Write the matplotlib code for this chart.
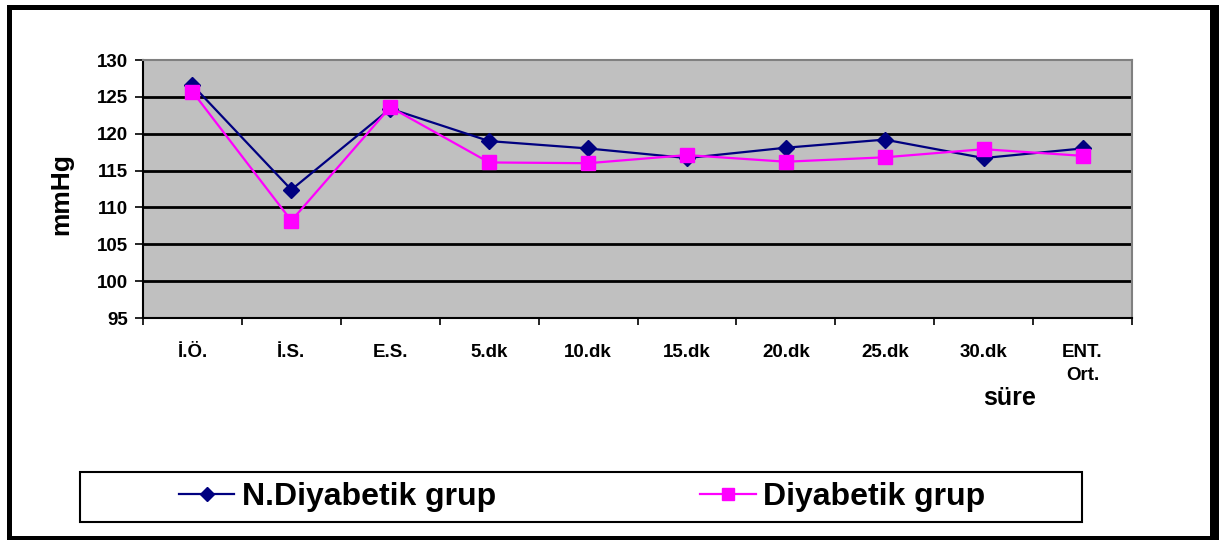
import matplotlib.pyplot as plt
from matplotlib.patches import Rectangle
from matplotlib.lines import Line2D
import numpy as np

plt.rcParams['font.family'] = ['Liberation Sans', 'DejaVu Sans']
plt.rcParams['font.weight'] = 'bold'

categories = ['İ.Ö.', 'İ.S.', 'E.S.', '5.dk', '10.dk', '15.dk', '20.dk', '25.dk', '30.dk', 'ENT.\nOrt.']
n_diyabetik = [126.6, 112.4, 123.4, 119.0, 118.0, 116.7, 118.1, 119.2, 116.7, 118.0]
diyabetik = [125.7, 108.2, 123.6, 116.1, 116.0, 117.1, 116.2, 116.8, 117.9, 117.0]
yticks = [95, 100, 105, 110, 115, 120, 125, 130]

navy = '#000080'
pink = '#FF00FF'
W, H = 1226, 540

fig = plt.figure(figsize=(12.26, 5.4), dpi=100)
ax = fig.add_axes([143/W, 1 - 318/H, (1132 - 143)/W, (318 - 60)/H])
ax.set_facecolor('#C0C0C0')

x = np.arange(len(categories))
ax.plot(x, n_diyabetik, color=navy, lw=1.6, marker='D', markersize=8.5, zorder=3)
ax.plot(x, diyabetik, color=pink, lw=1.6, marker='s', markersize=10.5, zorder=4)

ax.set_xlim(-0.5, len(categories) - 0.5)
ax.set_ylim(95, 130)
ax.set_yticks(yticks)
ax.set_yticklabels([str(t) for t in yticks], fontsize=13.5, fontweight='bold')
for t in yticks[1:-1]:
    ax.axhline(t, color='black', lw=2, zorder=1)

ax.set_xticks(x)
ax.set_xticklabels(categories, fontsize=13.5, fontweight='bold', va='top',
                   linespacing=1.45)
ax.set_xticks(np.arange(-0.5, len(categories), 1), minor=True)
ax.tick_params(axis='x', which='major', length=0, pad=19)
ax.tick_params(axis='x', which='minor', length=5, width=1.2, direction='out')
ax.tick_params(axis='y', length=5.5, width=1.2, direction='out', pad=5)

for side in ['left', 'bottom']:
    ax.spines[side].set_color('black')
    ax.spines[side].set_linewidth(1.5)
for side in ['top', 'right']:
    ax.spines[side].set_color('#808080')
    ax.spines[side].set_linewidth(1.5)

fig.text(61/W, 1 - 194/H, 'mmHg', fontsize=19, fontweight='bold',
         rotation=90, ha='center', va='center')
fig.text(1010/W, 1 - 398/H, 'süre', fontsize=18, fontweight='bold',
         ha='center', va='center')

# legend box
fig.patches.append(Rectangle((80/W, 1 - 522/H), (1082 - 80)/W, 50/H,
                             transform=fig.transFigure, fill=False,
                             edgecolor='black', lw=1.5))
handles = [Line2D([], [], color=navy, lw=1.6, marker='D', markersize=7),
           Line2D([], [], color=pink, lw=1.6, marker='s', markersize=8.5)]
fig.legend(handles, ['N.Diyabetik grup', 'Diyabetik grup'], loc='center',
           bbox_to_anchor=(582/W, 1 - 497/H), ncol=2, frameon=False,
           prop={'size': 23, 'weight': 'bold'},
           handlelength=1.75, handletextpad=0.22, columnspacing=6.4)

# outer frame (thicker on the right, like a shadow)
for x0, y0, x1, y1 in [(7, 5, 1219, 10), (7, 5, 12, 540),
                       (1210, 5, 1219, 540), (7, 536, 1219, 540)]:
    fig.patches.append(Rectangle((x0/W, 1 - y1/H), (x1 - x0)/W, (y1 - y0)/H,
                                 transform=fig.transFigure, facecolor='black',
                                 edgecolor='none'))

fig.savefig('out.png', dpi=100)
